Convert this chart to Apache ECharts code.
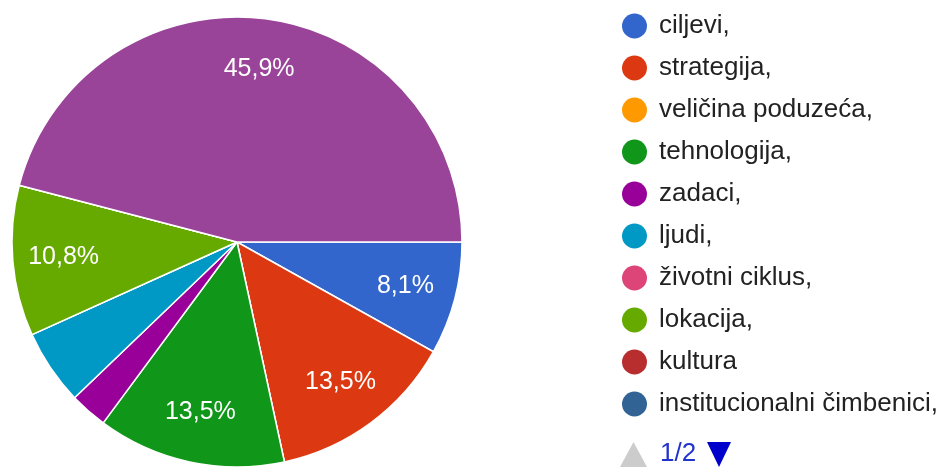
<!DOCTYPE html>
<html>
<head>
<meta charset="utf-8">
<script src="https://cdn.jsdelivr.net/npm/echarts@6/dist/echarts.min.js"></script>
<style>
  html, body { margin: 0; padding: 0; background: #fff; }
  #chart { width: 943px; height: 468px; }
</style>
</head>
<body>
<div id="chart"></div>
<script>
// answers (37 responses), in legend order; the last one sits on legend page 2
const categories = [
  "ciljevi,", "strategija,", "veličina poduzeća,", "tehnologija,", "zadaci,",
  "ljudi,", "životni ciklus,", "lokacija,", "kultura", "institucionalni čimbenici,",
  "sve navedeno"
];
const counts = [3, 5, 0, 5, 1, 2, 0, 4, 0, 0, 17];
const legendPageOne = categories.slice(0, 10);
const pageLabel = "1/2";

const PALETTE = [
  "#3366cc", "#dc3912", "#ff9900", "#109618", "#990099",
  "#0099c6", "#dd4477", "#66aa00", "#b82e2e", "#316395", "#994499"
];

const FONT = 'Arial, "Liberation Sans", sans-serif';
const total = counts.reduce((a, b) => a + b, 0);

function pct(v) {
  return (v / total * 100).toFixed(1).replace(".", ",") + "%";
}

const chart = echarts.init(document.getElementById("chart"), null, { renderer: "canvas" });

const slices = categories.map((name, i) => ({
  name, value: counts[i], itemStyle: { color: PALETTE[i] }
}));

chart.setOption({
  animation: false,
  legend: {
    type: "plain",
    orient: "vertical",
    left: 622,
    top: 13,
    padding: 0,
    data: legendPageOne,
    icon: "circle",
    itemWidth: 25,
    itemHeight: 25,
    itemGap: 16,
    itemStyle: { borderWidth: 0 },
    textStyle: { fontSize: 26, color: "#222", fontFamily: FONT, padding: [0, 0, 0, 7] },
    selectedMode: false
  },
  graphic: [
    { type: "polygon", shape: { points: [[620, 467], [633.5, 442], [647, 467]] }, style: { fill: "#cccccc" }, silent: true },
    { type: "text", left: 660, top: 441, style: { text: pageLabel, fontSize: 26, fontFamily: FONT, fill: "#2233cc" }, silent: true },
    { type: "polygon", shape: { points: [[707, 442], [731, 442], [719, 467]] }, style: { fill: "#0000cc" }, silent: true }
  ],
  series: [
    {
      name: "odgovori",
      type: "pie",
      center: [237, 242],
      radius: [0, 225],
      startAngle: 0,
      clockwise: true,
      silent: true,
      label: { show: false },
      labelLine: { show: false },
      itemStyle: { borderColor: "#ffffff", borderWidth: 1.5 },
      emphasis: { disabled: true },
      data: slices
    },
    {
      // transparent copy used only to push the percent labels outward
      name: "labels",
      type: "pie",
      center: [237, 242],
      radius: [117, 225],
      startAngle: 0,
      clockwise: true,
      silent: true,
      itemStyle: { color: "transparent", borderWidth: 0 },
      labelLine: { show: false },
      label: {
        show: true,
        position: "inside",
        color: "#ffffff",
        fontSize: 25,
        fontFamily: FONT,
        formatter: (p) => (p.value / total >= 0.07 ? pct(p.value) : "")
      },
      emphasis: { disabled: true },
      data: categories.map((name, i) => ({ name, value: counts[i] }))
    }
  ]
});
</script>
</body>
</html>
